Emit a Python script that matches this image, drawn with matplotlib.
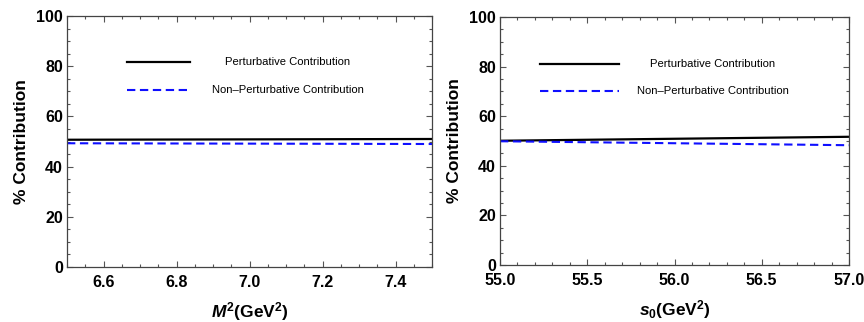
import numpy as np
import matplotlib
matplotlib.use("Agg")
import matplotlib.pyplot as plt
from matplotlib.ticker import MultipleLocator, FormatStrFormatter
from matplotlib.lines import Line2D

plt.rcParams['font.family'] = ['Liberation Sans', 'DejaVu Sans']
plt.rcParams['mathtext.fontset'] = 'custom'
plt.rcParams['mathtext.rm'] = 'Liberation Sans:bold'
plt.rcParams['mathtext.it'] = 'Liberation Sans:bold:italic'
plt.rcParams['mathtext.bf'] = 'Liberation Sans:bold'

# Borel parameter scan
m2 = [6.5, 7.5]
pert_m2 = [50.7, 51.0]
nonpert_m2 = [49.3, 49.0]

# Threshold scan
s0 = [55.0, 57.0]
pert_s0 = [50.1, 51.7]
nonpert_s0 = [49.9, 48.3]

labels = ["Perturbative Contribution", "Non\u2012Perturbative Contribution"]

fig = plt.figure(figsize=(8.64, 3.22), dpi=100)
W, H = 864, 322
ax1 = fig.add_axes([67 / W, 1 - 267 / H, 365 / W, 251 / H])
ax2 = fig.add_axes([500 / W, 1 - 265 / H, 349 / W, 248 / H])

def style(ax, xmaj, xmin):
    ax.set_ylim(0, 100)
    ax.yaxis.set_major_locator(MultipleLocator(20))
    ax.yaxis.set_minor_locator(MultipleLocator(5))
    ax.xaxis.set_major_locator(MultipleLocator(xmaj))
    ax.xaxis.set_minor_locator(MultipleLocator(xmin))
    ax.xaxis.set_major_formatter(FormatStrFormatter('%.1f'))
    ax.tick_params(which='both', direction='in', top=True, right=True,
                   color='#555555', width=0.8)
    ax.tick_params(which='major', length=4.5, labelsize=11.5)
    ax.tick_params(axis='x', which='major', pad=6)
    ax.tick_params(axis='y', which='major', pad=3)
    ax.tick_params(which='minor', length=2.5)
    for sp in ax.spines.values():
        sp.set_color('#444444')
        sp.set_linewidth(0.9)
    ax.set_ylabel('% Contribution', fontsize=12.5, fontweight='bold', labelpad=5)

def legend_keys(ax, x0, x1, y_solid, y_dash, xt):
    ax.add_line(Line2D([x0, x1], [y_solid, y_solid], transform=ax.transAxes,
                       color='black', lw=1.6))
    ax.add_line(Line2D([x0, x1], [y_dash, y_dash], transform=ax.transAxes,
                       color='#0f0fff', lw=1.5, dashes=(4, 2.2)))
    ax.text(xt, y_solid, labels[0], transform=ax.transAxes, ha='center',
            va='center', fontsize=8.1)
    ax.text(xt, y_dash, labels[1], transform=ax.transAxes, ha='center',
            va='center', fontsize=8.1)

ax1.plot(m2, pert_m2, color='black', lw=1.6)
ax1.plot(m2, nonpert_m2, color='#0f0fff', lw=1.5, dashes=(4, 2.2))
ax1.set_xlim(6.5, 7.5)
style(ax1, 0.2, 0.05)
ax1.set_xlabel(r'$\mathit{M}^{2}\mathrm{(GeV}^{2}\mathrm{)}$', fontsize=12.5, labelpad=7)
legend_keys(ax1, 0.164, 0.337, 0.817, 0.705, 0.605)

ax2.plot(s0, pert_s0, color='black', lw=1.6)
ax2.plot(s0, nonpert_s0, color='#0f0fff', lw=1.5, dashes=(4, 2.2))
ax2.set_xlim(55.0, 57.0)
style(ax2, 0.5, 0.1)
ax2.set_xlabel(r'$\mathit{s}_{0}\mathrm{(GeV}^{2}\mathrm{)}$', fontsize=12.5, labelpad=7)
legend_keys(ax2, 0.115, 0.341, 0.81, 0.70, 0.61)

for ax in (ax1, ax2):
    for lab in ax.get_xticklabels() + ax.get_yticklabels():
        lab.set_fontweight('bold')

fig.savefig('out.png', dpi=100)
